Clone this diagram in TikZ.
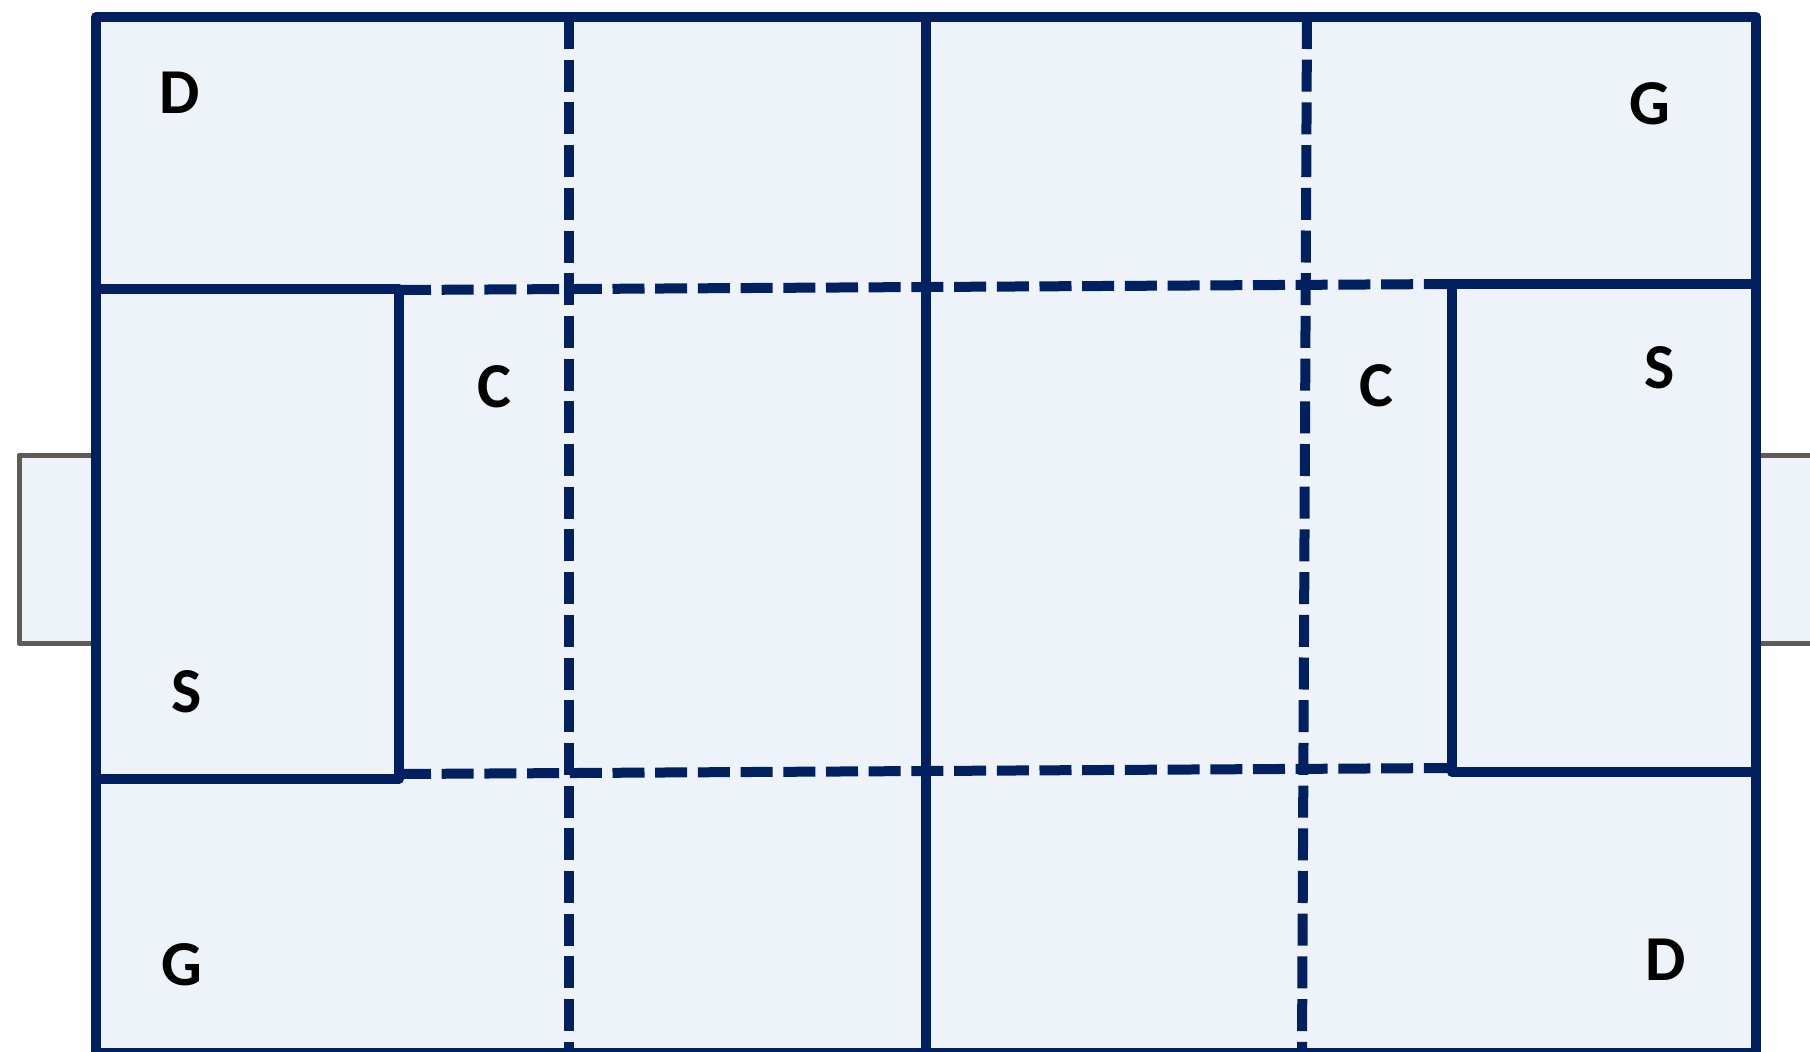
\documentclass[tikz,border=0pt]{standalone}
\usepackage{fontspec}
\setmainfont{Carlito}
\definecolor{navy}{HTML}{002060}
\definecolor{paper}{HTML}{EEF3FA}
\definecolor{tabgray}{HTML}{5F5A55}
\begin{document}
\begin{tikzpicture}[x=0.5pt,y=-0.5pt,
  fold/.style={draw=navy,line width=5pt,line join=round},
  cut/.style={draw=navy,line width=5pt,dash pattern=on 16pt off 5.35pt},
  tabflap/.style={draw=tabgray,fill=paper,line width=2.5pt,line join=round},
  lbl/.style={font=\bfseries\fontsize{32}{32}\selectfont,inner sep=0pt}]
\useasboundingbox (0,0) rectangle (1810,1051);
\fill[white] (0,0) rectangle (1810,1051);
% side tabs
\draw[tabflap] (96,455) -- (19,455) -- (19,643) -- (96,643);
\draw[tabflap] (1756,455) -- (1840,455) -- (1840,643) -- (1756,643);
% sheet
\fill[paper] (96,17) rectangle (1756,1053);
% dashed fold lines
\draw[cut] (569,17) -- (569,1053);
\draw[cut] (1307,17) -- (1302,1053);
\draw[cut] (399,290) -- (1452,284);
\draw[cut] (399,774) -- (1452,768);
% solid lines
\draw[fold] (926,17) -- (926,1053);
\draw[fold] (96,289) rectangle (399,779);
\draw[fold] (1452,284) rectangle (1756,772);
\draw[fold] (96,17) rectangle (1756,1053);
% labels
\node[lbl] (d1) at (180,93) {D};
\node[lbl] (g1) at (1650,104) {G};
\node[lbl] (c1) at (494,387) {C};
\node[lbl] (c2) at (1376,386) {C};
\node[lbl] (s1) at (1660,368) {S};
\node[lbl] (s2) at (187,692) {S};
\node[lbl] (g2) at (182,965) {G};
\node[lbl] (d2) at (1666,960) {D};
\end{tikzpicture}
\end{document}
